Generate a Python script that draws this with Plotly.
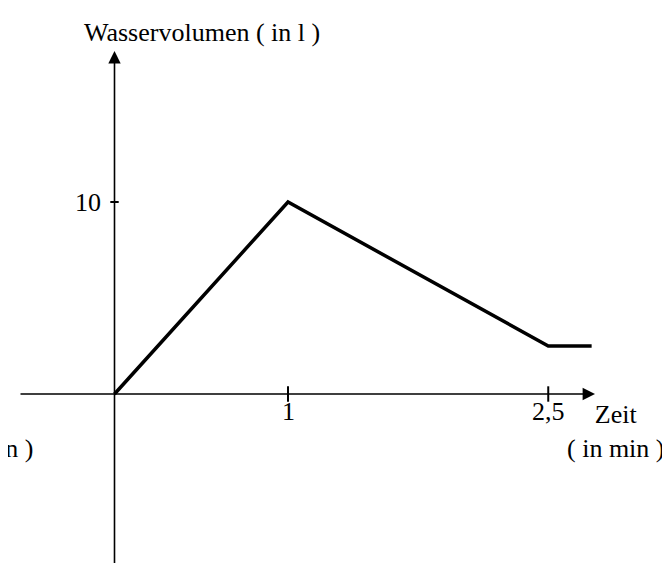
import plotly.graph_objects as go

# Data
zeit = [0, 1, 2.5, 2.75]            # in min
volumen = [0, 10, 2.5, 2.5]         # in l
x_ticks = [1, 2.5]
x_tick_labels = ["1", "2,5"]
y_ticks = [10]
y_tick_labels = ["10"]

W, H = 670, 563
FONT = dict(family="Liberation Serif, Times New Roman, serif", size=26, color="black")

fig = go.Figure()

# data line
fig.add_trace(go.Scatter(x=zeit, y=volumen, mode="lines",
                         line=dict(color="black", width=3.5), hoverinfo="skip"))
# tick marks
fig.add_trace(go.Scatter(x=x_ticks, y=[0] * len(x_ticks), mode="markers",
                         marker=dict(symbol="line-ns", size=11, line=dict(color="black", width=2)),
                         hoverinfo="skip"))
fig.add_trace(go.Scatter(x=[0] * len(y_ticks), y=y_ticks, mode="markers",
                         marker=dict(symbol="line-ew", size=6, line=dict(color="black", width=2)),
                         hoverinfo="skip"))

x0_px, sx = 106.5, 173.5
y0_px, sy = 386.0, 19.2
xr = [-x0_px / sx, (W - x0_px) / sx]
yr = [-(H - y0_px) / sy, y0_px / sy]

def px_x(p):
    return (p - x0_px) / sx

def px_y(p):
    return (y0_px - p) / sy

annotations = []
# axes with arrows
annotations.append(dict(x=px_x(587), y=0, ax=px_x(11), ay=0, xref="x", yref="y",
                        axref="x", ayref="y", showarrow=True, arrowhead=2,
                        arrowsize=1.55, arrowwidth=1.6, arrowcolor="black", text=""))
annotations.append(dict(x=0, y=px_y(43), ax=0, ay=px_y(563), xref="x", yref="y",
                        axref="x", ayref="y", showarrow=True, arrowhead=2,
                        arrowsize=1.55, arrowwidth=1.6, arrowcolor="black", text=""))
# tick labels
for xv, lab in zip(x_ticks, x_tick_labels):
    annotations.append(dict(x=xv, y=0, xref="x", yref="y", text=lab, showarrow=False,
                            xanchor="center", yanchor="middle", yshift=-17, font=FONT))
for yv, lab in zip(y_ticks, y_tick_labels):
    annotations.append(dict(x=0, y=yv, xref="x", yref="y", text=lab, showarrow=False,
                            xanchor="right", yanchor="middle", xshift=-12, font=FONT))
# axis titles
annotations.append(dict(x=194 / W, y=1 - 24 / H, xref="paper", yref="paper",
                        text="Wasservolumen ( in l )", showarrow=False,
                        xanchor="center", yanchor="middle", font=FONT))
annotations.append(dict(x=608 / W, y=1 - 423 / H, xref="paper", yref="paper",
                        text="Zeit<br>( in min )", showarrow=False,
                        xanchor="center", yanchor="middle", font=FONT))
annotations.append(dict(x=28 / W, y=1 - 440 / H, xref="paper", yref="paper",
                        text="( in min )", showarrow=False,
                        xanchor="right", yanchor="middle", font=FONT))

fig.update_layout(
    width=W, height=H, margin=dict(l=0, r=0, t=0, b=0),
    paper_bgcolor="white", plot_bgcolor="white", showlegend=False,
    xaxis=dict(range=xr, visible=False, fixedrange=True),
    yaxis=dict(range=yr, visible=False, fixedrange=True),
    annotations=annotations,
)

fig.write_html("out.html")
